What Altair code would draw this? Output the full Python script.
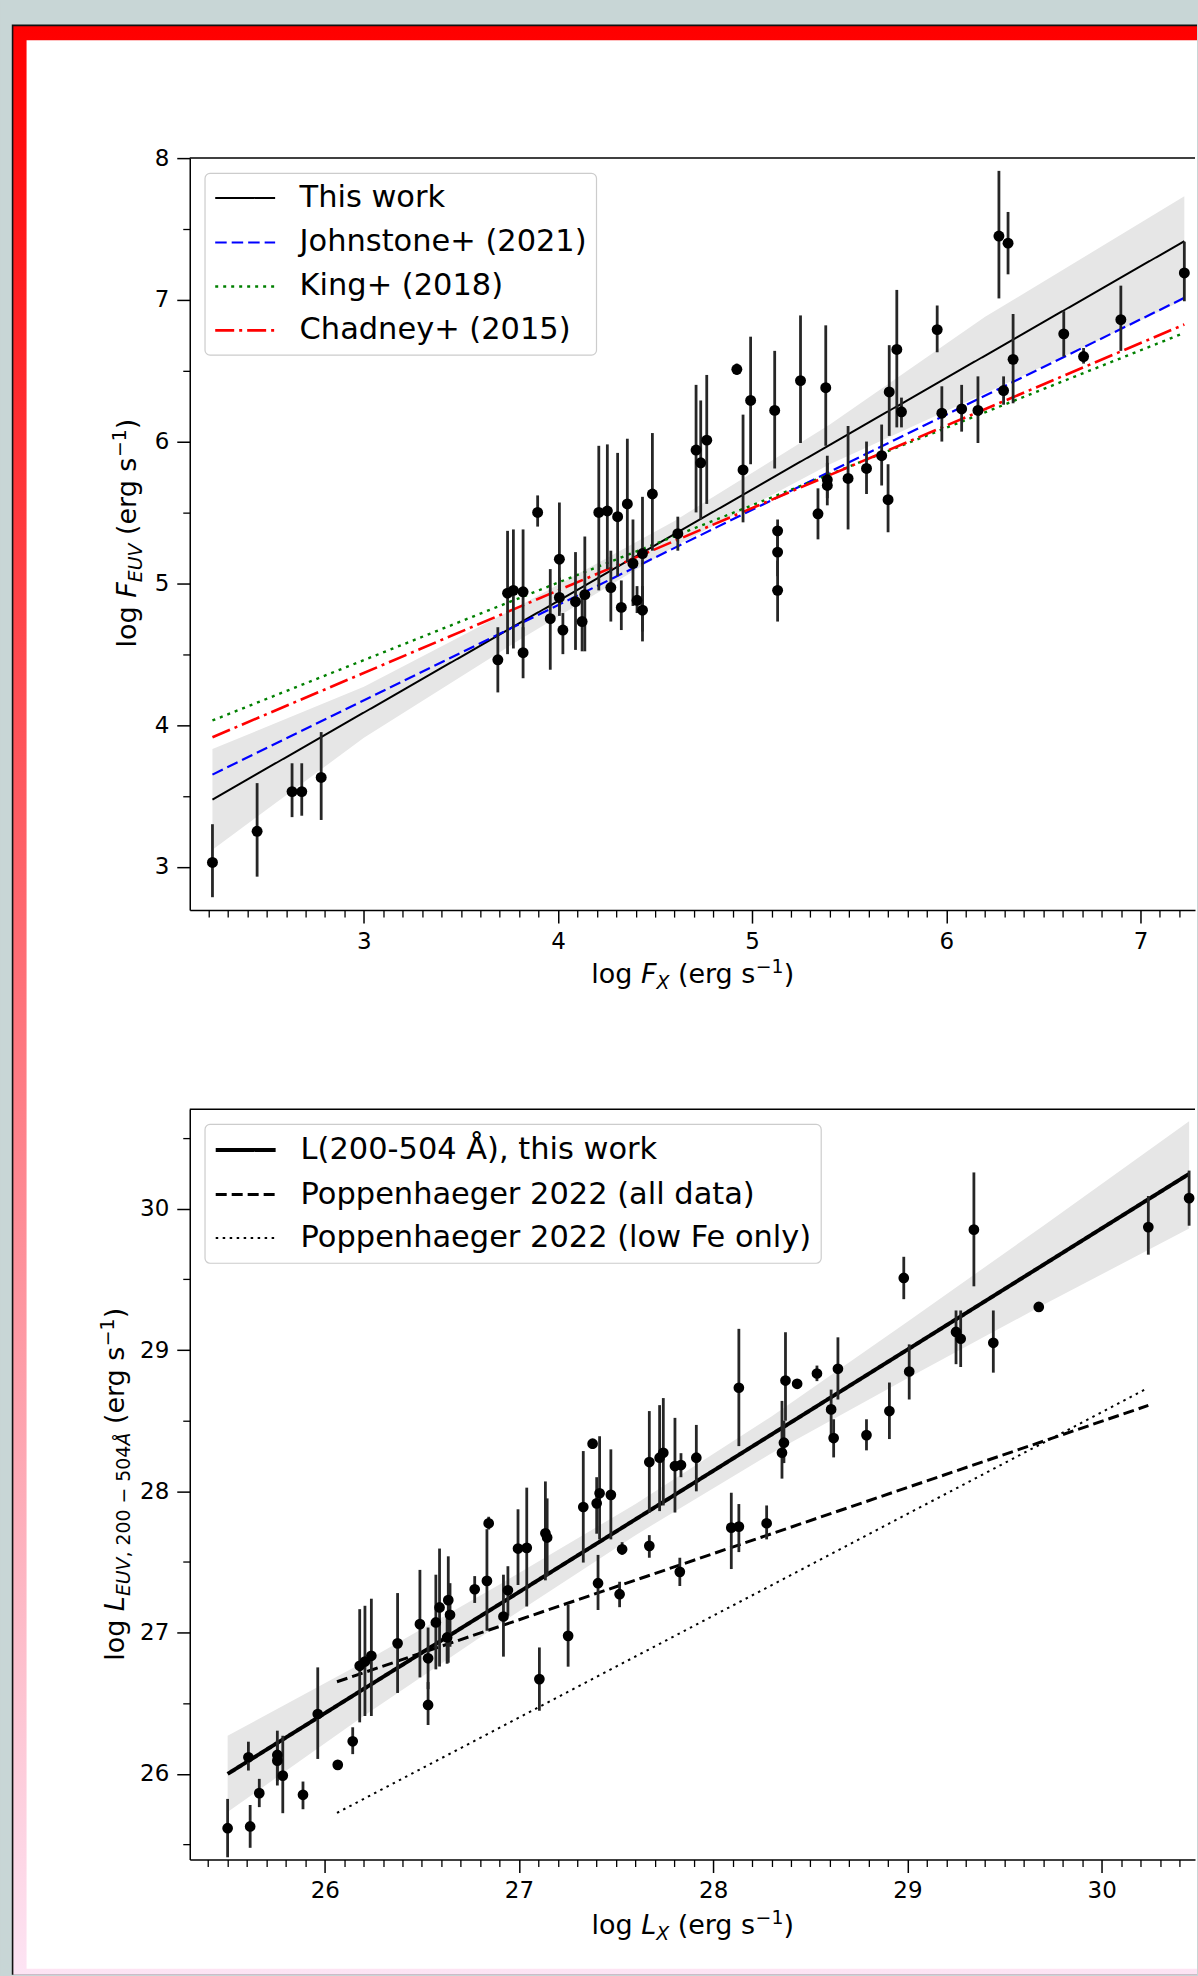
import altair as alt
import numpy as np
import pandas as pd

FONT = "DejaVu Sans"

# ---------------- top panel: log F_X vs log F_EUV ----------------
top_x = [2.22, 2.45, 2.63, 2.68, 2.78, 3.69, 3.74, 3.77, 3.82, 3.82,
         3.895, 3.96, 4.007, 4.007, 4.025, 4.09, 4.124, 4.138, 4.21, 4.254,
         4.307, 4.272, 4.326, 4.357, 4.386, 4.435, 4.407, 4.435, 4.486, 4.617,
         4.711, 4.735, 4.766, 4.921, 4.953, 4.992, 5.116, 5.131, 5.131, 5.131,
         5.249, 5.339, 5.379, 5.387, 5.387, 5.494, 5.589, 5.667, 5.70, 5.706,
         5.745, 5.769, 5.953, 5.977, 6.079, 6.163, 6.271, 6.318, 6.295, 6.344,
         6.605, 6.707, 6.899, 7.226]
top_y = [3.03, 3.25, 3.53, 3.53, 3.63, 4.46, 4.93, 4.95, 4.94, 4.51,
         5.50, 4.75, 5.17, 4.90, 4.67, 4.87, 4.73, 4.92, 5.50, 5.51,
         5.47, 4.97, 4.83, 5.56, 5.14, 5.21, 4.88, 4.81, 5.63, 5.35,
         5.94, 5.85, 6.01, 6.51, 5.80, 6.29, 6.22, 5.37, 5.22, 4.95,
         6.43, 5.49, 6.38, 5.73, 5.69, 5.74, 5.81, 5.90, 5.59, 6.35,
         6.65, 6.21, 6.79, 6.20, 6.23, 6.22, 7.45, 7.40, 6.36, 6.58,
         6.76, 6.60, 6.86, 7.19]
top_lo = [2.785, 2.93, 3.35, 3.36, 3.33, 4.23, 4.50, 4.54, 4.52, 4.33,
          5.40, 4.39, 4.80, 4.77, 4.50, 4.53, 4.52, 4.52, 4.95, 5.10,
          5.05, 4.73, 4.67, 5.15, 4.84, 4.59, 4.79, 4.66, 5.23, 5.23,
          5.50, 5.45, 5.56, 6.47, 5.43, 5.84, 5.81, 5.20, 5.05, 4.73,
          5.99, 5.31, 5.97, 5.60, 5.55, 5.38, 5.63, 5.69, 5.36, 6.04,
          6.10, 6.10, 6.63, 6.00, 6.07, 5.99, 7.01, 7.18, 6.26, 6.27,
          6.60, 6.55, 6.64, 6.99]
top_hi = [3.30, 3.59, 3.73, 3.73, 3.95, 4.69, 5.37, 5.38, 5.38, 4.69,
          5.62, 5.10, 5.57, 5.04, 4.79, 5.22, 4.92, 5.33, 5.97, 5.98,
          5.92, 5.23, 5.02, 6.02, 5.45, 5.61, 4.98, 4.98, 6.06, 5.47,
          6.40, 6.29, 6.47, 6.55, 6.19, 6.74, 6.64, 5.45, 5.40, 5.16,
          6.89, 5.67, 6.82, 5.90, 5.85, 6.11, 6.00, 6.12, 5.84, 6.68,
          7.07, 6.31, 6.96, 6.39, 6.40, 6.46, 7.91, 7.62, 6.46, 6.90,
          6.92, 6.66, 7.10, 7.41]

band1_x = [2.22, 3.0, 3.8, 4.6, 5.4, 6.2, 7.226]
band1_lo = [3.12, 3.91, 4.60, 5.26, 5.84, 6.34, 7.00]
band1_hi = [3.83, 4.27, 4.84, 5.44, 6.12, 6.88, 7.73]

fit1_names = ["This work", "Johnstone+ (2021)", "King+ (2018)", "Chadney+ (2015)"]
fit1_x0 = [2.22, 2.22, 2.22, 2.22]
fit1_x1 = [7.226, 7.226, 7.226, 7.226]
fit1_y0 = [3.474, 3.65, 4.032, 3.914]
fit1_y1 = [7.414, 7.014, 6.767, 6.826]
fit1_colors = ["#000000", "#0000ff", "#008000", "#ff0000"]
fit1_dash = [[1, 0], [11.5, 5], [3, 5], [19, 5, 3, 5]]
fit1_width = [2.0, 2.6, 2.6, 2.6]

# ---------------- bottom panel: log L_X vs log L_EUV ----------------
bot_x = [25.50, 25.607, 25.616, 25.663, 25.756, 25.756, 25.784, 25.888, 25.964, 26.067,
         26.144, 26.18, 26.207, 26.24, 26.375, 26.49, 26.532, 26.532, 26.572, 26.591,
         26.636, 26.645, 26.63, 26.772, 26.835, 26.844, 26.92, 26.943, 26.995, 27.04,
         27.105, 27.136, 27.145, 27.253, 27.331, 27.379, 27.40, 27.415, 27.407, 27.473,
         27.518, 27.531, 27.671, 27.671, 27.724, 27.743, 27.803, 27.834, 27.828, 27.913,
         28.093, 28.132, 28.132, 28.275, 28.354, 28.364, 28.372, 28.432, 28.534, 28.607,
         28.62, 28.642, 28.789, 28.907, 28.981, 29.009, 29.25, 29.274, 29.342, 29.442,
         29.676, 30.24, 30.45]
bot_y = [25.616, 26.118, 25.628, 25.864, 26.134, 26.094, 25.988, 25.852, 26.424, 26.064,
         26.231, 26.765, 26.795, 26.836, 26.924, 27.06, 26.818, 26.488, 27.072, 27.178,
         27.23, 27.126, 26.966, 27.307, 27.366, 27.774, 27.114, 27.30, 27.595, 27.60,
         26.671, 27.703, 27.673, 26.977, 27.889, 28.337, 27.915, 27.986, 27.35, 27.975,
         27.272, 27.59, 28.207, 27.614, 28.238, 28.273, 28.179, 28.186, 27.43, 28.238,
         27.743, 27.75, 28.733, 27.774, 28.273, 28.344, 28.784, 28.761, 28.834, 28.58,
         28.377, 28.867, 28.398, 28.568, 29.51, 28.848, 29.128, 29.08, 29.852, 29.051,
         29.305, 29.87, 30.075]
bot_lo = [25.41, 26.024, 25.477, 25.765, 25.918, 25.95, 25.722, 25.75, 26.106, 26.04,
          26.14, 26.365, 26.41, 26.41, 26.573, 26.683, 26.60, 26.346, 26.74, 26.76,
          26.787, 26.90, 26.78, 27.21, 27.013, 27.73, 26.83, 27.12, 27.337, 27.185,
          26.447, 27.37, 27.40, 26.759, 27.496, 28.30, 27.70, 27.66, 27.16, 27.66,
          27.18, 27.55, 27.85, 27.53, 27.86, 27.90, 27.85, 28.10, 27.33, 28.00,
          27.45, 27.57, 28.32, 27.66, 28.09, 28.20, 28.50, 28.74, 28.78, 28.35,
          28.24, 28.65, 28.29, 28.37, 29.36, 28.65, 28.90, 28.88, 29.451, 28.84,
          29.28, 29.675, 29.88]
bot_hi = [25.823, 26.228, 25.78, 25.965, 26.306, 26.24, 26.27, 25.946, 26.754, 26.09,
          26.33, 27.166, 27.19, 27.24, 27.28, 27.444, 27.036, 26.65, 27.41, 27.595,
          27.54, 27.35, 27.15, 27.40, 27.732, 27.82, 27.41, 27.47, 27.873, 28.026,
          26.895, 28.07, 27.95, 27.198, 28.285, 28.37, 28.10, 28.39, 27.55, 28.297,
          27.36, 27.64, 28.568, 27.69, 28.61, 28.66, 28.52, 28.27, 27.53, 28.47,
          27.99, 27.91, 29.15, 27.90, 28.64, 28.50, 29.126, 28.78, 28.89, 28.72,
          28.51, 29.09, 28.51, 28.77, 29.66, 29.04, 29.28, 29.28, 30.257, 29.28,
          29.33, 30.09, 30.27]

band2_x = [25.5, 26.2, 26.9, 27.6, 28.3, 29.0, 29.7, 30.45]
band2_lo = [25.73, 26.41, 27.06, 27.69, 28.27, 28.80, 29.32, 29.86]
band2_hi = [26.27, 26.79, 27.34, 27.91, 28.53, 29.20, 29.88, 30.62]

fit2_names = ["L(200-504 Å), this work", "Poppenhaeger 2022 (all data)",
              "Poppenhaeger 2022 (low Fe only)"]
fit2_x0 = [25.50, 26.063, 26.063]
fit2_x1 = [30.45, 30.24, 30.23]
fit2_y0 = [26.0, 26.652, 25.724]
fit2_y1 = [30.247, 28.608, 28.726]
fit2_colors = ["#000000", "#000000", "#000000"]
fit2_dash = [[1, 0], [11, 5], [2.5, 4.5]]
fit2_width = [4.0, 2.0, 2.0]

# ---------------- layout ----------------
PAGE_W, PAGE_H = 1198, 1976
OX, OY = 189.4, 157.0          # top-left of upper plot area on the page
W = 1006.6
H1, H2 = 753.0, 751.4
GAP = 199.3
PXU = 194.4                    # px per x unit
x1_dom = [2.103, 2.103 + W / PXU]
y1_dom = [2.694, 8.0]
x2_dom = [25.305, 25.305 + W / 194.5]
y2_dom = [25.394, 30.705]

dummy = pd.DataFrame({"d": [0]})

# DejaVu Sans advance widths (em)
ADV = {" ": 0.318, "(": 0.390, ")": 0.390, ",": 0.318, "-": 0.361, "−": 0.838,
       "0": 0.636, "1": 0.636, "2": 0.636, "4": 0.636, "5": 0.636,
       "A": 0.684, "Å": 0.684, "E": 0.632, "F": 0.575, "L": 0.557, "U": 0.732,
       "V": 0.684, "X": 0.685, "e": 0.615, "g": 0.635, "l": 0.278, "o": 0.612,
       "r": 0.411, "s": 0.521}


def tw(t, s):
    return sum(ADV.get(c, 0.6) for c in t) * s


def title_layers(segs, ax, ay, angle):
    total = sum(tw(t, s) for t, s, it, dy in segs)
    off = -total / 2
    out = []
    for t, s, it, dy in segs:
        lead = tw(t[: len(t) - len(t.lstrip())], s)
        out.append(
            alt.Chart(dummy).mark_text(
                text=t.strip(), font=FONT, fontSize=s,
                fontStyle="italic" if it else "normal", align="left",
                baseline="alphabetic", angle=angle, dx=off + lead, dy=dy,
                color="black").encode(x=alt.value(ax), y=alt.value(ay)))
        off += tw(t, s)
    return out


def frame_rect(xa, ya, xb, yb, **kw):
    return alt.Chart(dummy).mark_rect(**kw).encode(
        x=alt.value(xa - OX), x2=alt.value(xb - OX),
        y=alt.value(ya - OY), y2=alt.value(yb - OY))


def major_axis(vals, orient, pad):
    return alt.Axis(values=vals, orient=orient, title=None, grid=False, tickSize=13,
                    tickWidth=1.5, tickColor="black", domain=True, domainColor="black",
                    domainWidth=1.5, labelFont=FONT, labelFontSize=23, labelColor="black",
                    labelPadding=pad, labelFlush=False, labelOverlap=False, format="d",
                    zindex=1)


def minor_axis(vals, orient):
    return alt.Axis(values=vals, orient=orient, title=None, grid=False, tickSize=7,
                    tickWidth=1.3, tickColor="black", domain=False, labels=False,
                    zindex=1)


def minor_vals(a, b, step, majors):
    v = np.round(np.arange(a, b + 1e-9, step), 2)
    return [float(t) for t in v if all(abs(t - m) > 1e-6 for m in majors)]


def leg():
    return alt.Legend(title=None, orient="top-left", offset=15, padding=9,
                      fillColor="rgba(255,255,255,0.8)", strokeColor="#cccccc",
                      labelFont=FONT, labelFontSize=30.5, labelColor="black",
                      symbolType="M-2,0L2,0", symbolSize=900, symbolOffset=15,
                      labelOffset=38, rowPadding=12, labelLimit=1000)


def panel(px, py, plo, phi, bx, blo, bhi, names, x0, x1, y0, y1, colors, dashes,
          widths, xdom, ydom, xmaj, ymaj, xmin, ymin, height, pt_size, titles,
          extra_front=()):
    xs = alt.Scale(domain=xdom, nice=False, zero=False)
    ys = alt.Scale(domain=ydom, nice=False, zero=False)
    pts = pd.DataFrame({"x": px, "y": py, "lo": plo, "hi": phi})
    band = pd.DataFrame({"x": bx, "lo": blo, "hi": bhi})
    rows = []
    for n, a, b, c, d in zip(names, x0, x1, y0, y1):
        rows.append({"model": n, "x": a, "y": c})
        rows.append({"model": n, "x": b, "y": d})
    lines = pd.DataFrame(rows)

    band_l = alt.Chart(band).mark_area(color="#e6e6e6", opacity=1).encode(
        x=alt.X("x:Q", scale=xs, axis=None),
        y=alt.Y("lo:Q", scale=ys, axis=None), y2="hi:Q")
    lines_l = alt.Chart(lines).mark_line().encode(
        x=alt.X("x:Q", scale=xs, axis=None),
        y=alt.Y("y:Q", scale=ys, axis=None),
        color=alt.Color("model:N", sort=names,
                        scale=alt.Scale(domain=names, range=colors), legend=leg()),
        strokeDash=alt.StrokeDash("model:N", sort=names,
                                  scale=alt.Scale(domain=names, range=dashes),
                                  legend=leg()),
        strokeWidth=alt.StrokeWidth("model:N", sort=names,
                                    scale=alt.Scale(domain=names, range=widths),
                                    legend=leg()),
        detail="model:N")
    err_l = alt.Chart(pts).mark_rule(color="#262626", strokeWidth=2.8).encode(
        x=alt.X("x:Q", scale=xs, axis=major_axis(xmaj, "bottom", 7)),
        y=alt.Y("lo:Q", scale=ys, axis=major_axis(ymaj, "left", 8)), y2="hi:Q")
    pt_l = alt.Chart(pts).mark_circle(color="black", opacity=1, size=pt_size).encode(
        x=alt.X("x:Q", scale=xs, axis=minor_axis(xmin, "bottom")),
        y=alt.Y("y:Q", scale=ys, axis=minor_axis(ymin, "left")))
    spine = alt.Chart(dummy).mark_rule(color="black", strokeWidth=1.5).encode(
        x=alt.value(0), x2=alt.value(W), y=alt.value(0))
    layers = list(extra_front) + [band_l, lines_l, err_l, pt_l, spine] + titles
    return alt.layer(*layers).resolve_axis(x="independent", y="independent").properties(
        width=W, height=height)


grad = alt.LinearGradient(
    gradient="linear",
    stops=[alt.GradientStop(color="#ff0000", offset=0),
           alt.GradientStop(color="#fde4f4", offset=1)],
    x1=0, x2=0, y1=0, y2=1)
frame = [
    frame_rect(0, 0, PAGE_W, PAGE_H, color="#c8d6d6"),
    frame_rect(11.2, 23.3, PAGE_W, PAGE_H, color="#111111"),
    frame_rect(12.8, 25.0, PAGE_W, PAGE_H, fill=grad, strokeWidth=0),
    frame_rect(26.0, 39.0, PAGE_W, 1970.0, color="#ffffff"),
]

SUB, SUP = 18.9, 18.9
t1 = (title_layers([("log ", 27, False, 0), ("F", 27, True, 0), ("X", SUB, True, 6),
                    (" (erg s", 27, False, 0), ("−1", SUP, False, -10), (")", 27, False, 0)],
                   503.6, 826, 0) +
      title_layers([("log ", 27, False, 0), ("F", 27, True, 0), ("EUV", SUB, True, 6),
                    (" (erg s", 27, False, 0), ("−1", SUP, False, -10), (")", 27, False, 0)],
                   -53.4, 375.5, 270))
t2 = (title_layers([("log ", 27, False, 0), ("L", 27, True, 0), ("X", SUB, True, 6),
                    (" (erg s", 27, False, 0), ("−1", SUP, False, -10), (")", 27, False, 0)],
                   503.6, 826, 0) +
      title_layers([("log ", 27, False, 0), ("L", 27, True, 0), ("EUV", SUB, True, 6),
                    (",", SUB, False, 6), (" 200 − 504", SUB, False, 6), ("Å", SUB, True, 6),
                    (" (erg s", 27, False, 0), ("−1", SUP, False, -10), (")", 27, False, 0)],
                   -65.4, 375.7, 270))

top = panel(top_x, top_y, top_lo, top_hi, band1_x, band1_lo, band1_hi,
            fit1_names, fit1_x0, fit1_x1, fit1_y0, fit1_y1, fit1_colors, fit1_dash,
            fit1_width, x1_dom, y1_dom, [3, 4, 5, 6, 7], [3, 4, 5, 6, 7, 8],
            minor_vals(2.2, 7.2, 0.1, [3, 4, 5, 6, 7]), [3.5, 4.5, 5.5, 6.5, 7.5],
            H1, 120, t1, extra_front=frame)
bottom = panel(bot_x, bot_y, bot_lo, bot_hi, band2_x, band2_lo, band2_hi,
               fit2_names, fit2_x0, fit2_x1, fit2_y0, fit2_y1, fit2_colors, fit2_dash,
               fit2_width, x2_dom, y2_dom, [26, 27, 28, 29, 30], [26, 27, 28, 29, 30],
               minor_vals(25.4, 30.4, 0.1, [26, 27, 28, 29, 30]),
               [25.5, 26.5, 27.5, 28.5, 29.5, 30.5], H2, 115, t2)

chart = alt.vconcat(top, bottom, spacing=GAP, bounds="flush").resolve_scale(
    color="independent", strokeDash="independent", strokeWidth="independent"
).resolve_legend(
    color="independent", strokeDash="independent", strokeWidth="independent"
).properties(
    padding=0, background="#c8d6d6"
).configure_view(stroke=None).configure_text(font=FONT).configure_legend(
    cornerRadius=5, strokeWidth=1.2
)

chart.save("out.html", embed_options={"renderer": "svg", "actions": False})
